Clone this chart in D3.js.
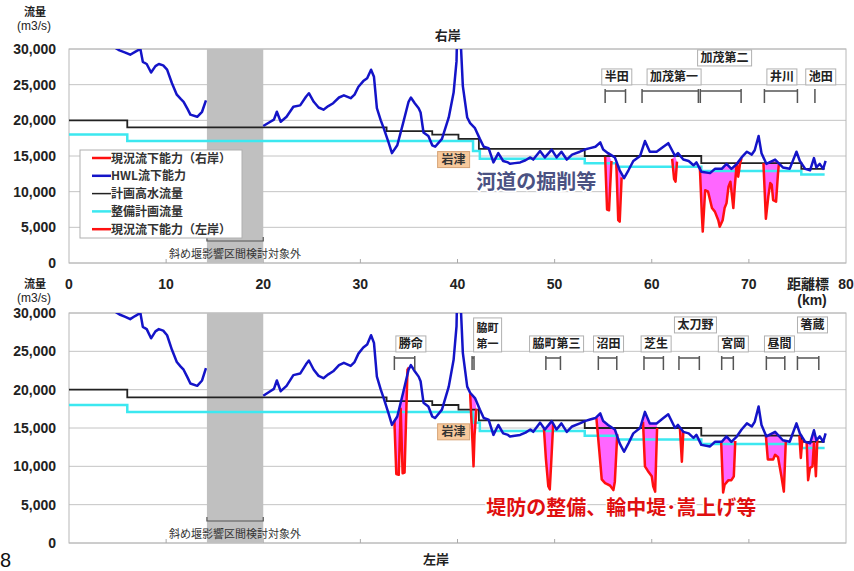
<!DOCTYPE html>
<html>
<head>
<meta charset="utf-8">
<script src="https://cdn.jsdelivr.net/npm/d3@7"></script>
<style>
body { margin: 0; background: #fff; }
text { font-family: "Liberation Sans", Arial, sans-serif; }
.jp { font-family: "Noto Sans CJK JP", sans-serif; }
</style>
</head>
<body>
<div id="chart"></div>
<script>
// ---- data (km, m3/s) ----
const kmTicks = [0, 10, 20, 30, 40, 50, 60, 70, 80];
const flowTicks = [0, 5000, 10000, 15000, 20000, 25000, 30000];

// HWL流下能力 (same for both banks), null = gap (斜め堰区間)
const hwl = [
  [4.6,30300],[5.2,29800],[5.8,29500],[6.3,29200],[6.8,29600],[7.35,30000],[7.6,28200],[8.0,27900],
  [8.45,26700],[8.9,27600],[9.25,27900],[9.7,27700],[10.1,27100],[10.6,25200],[11.1,23600],[11.5,23000],
  [11.8,22600],[12.2,21600],[12.5,20800],[13.2,20500],[13.7,21200],[14.1,22800],[14.2,null],
  [20.0,19200],[20.6,19700],[21.1,20100],[21.4,21200],[21.8,19800],[22.4,20500],[23.1,21900],[23.8,22100],
  [24.4,23300],[24.7,23800],[25.2,22600],[25.7,21800],[26.2,21500],[26.7,22000],[27.2,22400],[27.8,23200],
  [28.3,23500],[29.0,23100],[29.4,23600],[29.8,24700],[30.3,25500],[30.7,25900],[31.1,27100],[31.4,26100],
  [31.7,21700],[32.1,20000],[32.4,18900],[32.9,16900],[33.25,15400],[33.8,16500],[34.4,19600],[34.96,22600],
  [35.2,23200],[35.6,22400],[36.0,21700],[36.2,21100],[36.5,18300],[37.0,17800],[37.4,16500],[37.7,16300],
  [38.4,17400],[39.1,20400],[39.6,23900],[39.9,28300],[40.05,38000],[40.35,30500],[40.55,24800],[41.0,20400],
  [41.3,19600],[41.8,18900],[42.3,17400],[42.7,16300],[43.2,16100],[43.7,14100],[44.2,15400],[44.7,14300],
  [45.2,14100],[45.4,13900],[45.9,14000],[46.45,14100],[47.0,14400],[47.5,14800],[47.8,14500],[48.5,15700],
  [49.0,14800],[49.7,15900],[50.2,14800],[50.7,15600],[51.25,14500],[51.8,15200],[52.6,15600],[53.1,15900],
  [53.65,16100],[54.2,16300],[54.7,16900],[55.0,15900],[55.5,15400],[56.2,14800],[56.7,13000],[57.15,11900],
  [57.6,13000],[58.1,14300],[58.8,15000],[59.3,17100],[59.8,15600],[60.5,15600],[61.2,16300],[61.7,16800],
  [62.4,15000],[62.7,15400],[63.25,14500],[63.8,14300],[64.3,13700],[64.6,14100],[65.1,12800],[66.0,12600],
  [66.5,13200],[67.2,13200],[67.7,13900],[68.2,13200],[68.7,13800],[69.25,14800],[69.8,15600],[70.3,15200],
  [70.6,15800],[71.0,17800],[71.3,15400],[71.8,13900],[72.7,14500],[73.5,13400],[74.2,13200],[74.9,15600],
  [75.25,14300],[75.8,13200],[76.3,13000],[76.7,14700],[76.95,13400],[77.3,13900],[77.65,13200],[77.9,14300]
];

// 計画高水流量 (steps)
const planFlow = [[0,20000],[6,19000],[32.7,18500],[37.4,18000],[40.1,17400],[42.2,16000],[53.1,15000],[65.1,14000],[75.4,13200],[77.8,13200]];
// 整備計画流量 (steps)
const seibiFlow = [[0,18000],[6,17100],[41.6,15700],[42.3,14600],[53.1,14000],[56.4,13500],[65.1,12900],[75.4,12400],[77.8,12400]];

// 現況流下能力 where it falls below HWL
const capRight = [
  [[55.2,14900],[55.4,7500],[55.6,7400],[55.85,14300]],
  [[56.35,14000],[56.55,6000],[56.7,5800],[56.9,12000]],
  [[62.1,14600],[62.3,11800],[62.45,11400],[62.6,14200]],
  [[64.95,13500],[65.15,7000],[65.25,4400],[65.5,10200],[65.8,10000],[66.2,7700],[66.5,7200],[66.85,6000],
   [67.0,5100],[67.3,6000],[67.5,7700],[67.7,8400],[67.9,10700],[68.1,11400],[68.4,7700],[68.55,10700],
   [68.75,14000],[68.9,12100],[69.1,14000],[69.25,14700]],
  [[71.5,14000],[71.75,6200],[72.0,9300],[72.2,11200],[72.35,11000],[72.5,8800],[72.8,8600],[73.0,12600],[73.1,14000]]
];
const capLeft = [
  [[33.5,16000],[33.7,9000],[33.95,8900],[34.15,17500],[34.35,9100],[34.55,9200],[34.85,22600],[35.0,22900]],
  [[41.3,19500],[41.55,13000],[41.65,10000],[41.75,14000],[41.95,17500]],
  [[48.9,14900],[49.1,11000],[49.35,7400],[49.5,7000],[49.65,10500],[49.85,15500]],
  [[54.3,16300],[54.6,12000],[54.85,8300],[55.2,7800],[55.7,7500],[56.05,6900],[56.2,8000],[56.45,14200]],
  [[59.1,15800],[59.3,10000],[59.6,9400],[60.0,8700],[60.15,7400],[60.35,6700],[60.55,15000]],
  [[62.9,15000],[63.1,10600],[63.25,14500]],
  [[67.15,13100],[67.35,6600],[67.5,7600],[67.9,8200],[68.2,8200],[68.45,8700],[68.6,13300]],
  [[71.75,14000],[71.95,10900],[72.5,10900],[72.7,11500],[73.0,11200],[73.35,8700],[73.6,6700],[73.8,13200]],
  [[75.2,14000],[75.35,11100],[75.5,13500]],
  [[75.95,13100],[76.1,8200],[76.3,9800],[76.55,10000],[76.7,13000],[76.9,8700],[77.05,13500]]
];

const weirZone = [14.2, 20];
const iwazu = [39.6, 14500];

// 対象区間
const sitesRight = [
  {name: ['半田'], from: 55.2, to: 57.3, at: 56.4, row: 0},
  {name: ['加茂第一'], from: 59.0, to: 64.8, at: 62.3, row: 0},
  {name: ['加茂第二'], from: 65.0, to: 69.2, at: 67.5, row: 1},
  {name: ['井川'], from: 71.6, to: 75.0, at: 73.4, row: 0},
  {name: ['池田'], from: 76.8, to: 76.8, at: 77.4, row: 0}
];
const sitesLeft = [
  {name: ['勝命'], from: 33.5, to: 35.6, at: 35.2, row: 0},
  {name: ['脇町', '第一'], from: 41.5, to: 41.7, at: 43.1, row: 0},
  {name: ['脇町第三'], from: 49.1, to: 50.6, at: 50.2, row: 0},
  {name: ['沼田'], from: 54.5, to: 56.4, at: 55.55, row: 0},
  {name: ['芝生'], from: 59.2, to: 61.2, at: 60.45, row: 0},
  {name: ['太刀野'], from: 62.8, to: 64.9, at: 64.5, row: 1},
  {name: ['宮岡'], from: 67.2, to: 68.4, at: 68.4, row: 0},
  {name: ['昼間'], from: 71.8, to: 73.7, at: 73.15, row: 0},
  {name: ['箸蔵'], from: 75.0, to: 77.2, at: 76.55, row: 1}
];

const legendItems = [
  ['現況流下能力（右岸）', '#ff1010', 2.5],
  ['HWL流下能力', '#1414c8', 2.5],
  ['計画高水流量', '#222', 1.5],
  ['整備計画流量', '#3ce8f0', 2.5],
  ['現況流下能力（左岸）', '#ff1010', 2.5]
];

// ---- setup ----
const width = 854, height = 571;
const svg = d3.select('#chart').append('svg')
  .attr('width', width).attr('height', height);

const x = d3.scaleLinear().domain([0, 80]).range([69, 846]);

const panels = [
  {id: 'r', top: 49, bottom: 263, cap: capRight, sites: sitesRight, bank: '右岸', bankY: 40, bankKm: 39,
   note: '河道の掘削等', noteAt: [48.1, 11400], noteColor: '#4b5282', unitY: 16},
  {id: 'l', top: 313, bottom: 543, cap: capLeft, sites: sitesLeft, bank: '左岸', bankY: 564, bankKm: 37.8,
   note: '堤防の整備、輪中堤･嵩上げ等', noteAt: [56.85, 4600], noteColor: '#e01010', unitY: 288}
];

panels.forEach(p => {
  const y = d3.scaleLinear().domain([0, 30000]).range([p.bottom, p.top]);
  const g = svg.append('g');

  g.append('clipPath').attr('id', 'clip' + p.id)
    .append('rect').attr('x', x(0)).attr('y', p.top)
    .attr('width', x(80) - x(0)).attr('height', p.bottom - p.top);

  // grid
  g.selectAll('line.grid').data(flowTicks).enter().append('line')
    .attr('x1', x(0)).attr('x2', x(80))
    .attr('y1', d => y(d)).attr('y2', d => y(d))
    .attr('stroke', '#c4c4c4').attr('stroke-width', 1);
  g.append('rect').attr('x', x(0)).attr('y', p.top)
    .attr('width', x(80) - x(0)).attr('height', p.bottom - p.top)
    .attr('fill', 'none').attr('stroke', '#b8b8b8');

  // y labels
  g.selectAll('text.ylab').data(flowTicks).enter().append('text')
    .attr('x', 56).attr('y', d => y(d) + 5)
    .attr('text-anchor', 'end')
    .style('font-size', '14px').style('font-weight', 'bold').attr('fill', '#222')
    .text(d => d3.format(',')(d));

  // x ticks (small, inside)
  g.selectAll('line.xt').data(kmTicks.slice(1, -1)).enter().append('line')
    .attr('x1', d => x(d)).attr('x2', d => x(d))
    .attr('y1', p.bottom).attr('y2', p.bottom - 4)
    .attr('stroke', '#aaa');

  // weir zone band
  g.append('rect').attr('x', x(weirZone[0])).attr('y', p.top)
    .attr('width', x(weirZone[1]) - x(weirZone[0])).attr('height', p.bottom - p.top)
    .attr('fill', '#c0c0c0');
  const by = p.bottom - 22;
  g.append('path')
    .attr('d', `M${x(weirZone[0])},${by - 4}V${by}H${x(weirZone[1])}V${by - 4}`)
    .attr('fill', 'none').attr('stroke', '#555').attr('stroke-width', 1.2);
  g.append('text').attr('class', 'jp')
    .attr('x', (x(weirZone[0]) + x(weirZone[1])) / 2).attr('y', p.bottom - 5)
    .attr('text-anchor', 'middle').style('font-size', '11px').attr('fill', '#333')
    .text('斜め堰影響区間検討対象外');

  const plot = g.append('g').attr('clip-path', `url(#clip${p.id})`);
  const line = d3.line().x(d => x(d[0])).y(d => y(d[1])).defined(d => d[1] != null);
  const stepLine = d3.line().x(d => x(d[0])).y(d => y(d[1])).curve(d3.curveStepAfter);

  // fill between current capacity and HWL
  p.cap.forEach(seg => {
    const s0 = seg[0][0], s1 = seg[seg.length - 1][0];
    const back = hwl.filter(d => d[1] != null && d[0] > s0 && d[0] < s1).reverse();
    plot.append('path').attr('d', line(seg.concat(back)) + 'Z')
      .attr('fill', '#ff66ff').attr('stroke', 'none');
  });

  plot.append('path').attr('d', stepLine(seibiFlow))
    .attr('fill', 'none').attr('stroke', '#3ce8f0').attr('stroke-width', 2.5);
  plot.append('path').attr('d', stepLine(planFlow))
    .attr('fill', 'none').attr('stroke', '#222').attr('stroke-width', 1.8);

  p.cap.forEach(seg => {
    plot.append('path').attr('d', line(seg))
      .attr('fill', 'none').attr('stroke', '#ff1010').attr('stroke-width', 2.5)
      .attr('stroke-linejoin', 'round');
  });

  plot.append('path').attr('d', line(hwl))
    .attr('fill', 'none').attr('stroke', '#1414c8').attr('stroke-width', 2.5)
    .attr('stroke-linejoin', 'round');

  // 岩津
  const iw = g.append('g').attr('transform', `translate(${x(iwazu[0])},${y(iwazu[1])})`);
  iw.append('rect').attr('x', -16).attr('y', -8).attr('width', 32).attr('height', 16)
    .attr('fill', '#f7c99c').attr('stroke', '#d6a377');
  iw.append('text').attr('class', 'jp').attr('y', 4.5).attr('text-anchor', 'middle')
    .style('font-size', '12px').style('font-weight', 'bold').attr('fill', '#333').text('岩津');

  // big note
  g.append('text').attr('class', 'jp')
    .attr('x', x(p.noteAt[0])).attr('y', y(p.noteAt[1]) + 7)
    .attr('text-anchor', 'middle')
    .style('font-size', '20px').style('font-weight', 'bold')
    .attr('fill', p.noteColor).attr('stroke', '#fff').attr('stroke-width', 3)
    .attr('paint-order', 'stroke')
    .text(p.note);

  // site brackets + labels
  const bTop = y(24400);
  p.sites.forEach(s => {
    const x0 = x(s.from), x1 = x(s.to);
    g.append('path')
      .attr('d', `M${x0},${bTop}V${bTop + 14}M${x1},${bTop}V${bTop + 14}M${x0},${bTop + 2}H${x1}`)
      .attr('fill', 'none').attr('stroke', '#555').attr('stroke-width', 1.5);
    const lines = s.name.length;
    const lh = lines > 1 ? 16 : 14;
    const fs = lines > 1 ? 11 : 12;
    const hBox = lh * lines + 2;
    const bottomBox = bTop - 4 - s.row * 19;
    const lg = g.append('g');
    const txts = lg.selectAll('text').data(s.name).enter().append('text').attr('class', 'jp')
      .attr('x', x(s.at)).attr('y', (d, i) => bottomBox - hBox + lh - 2 + i * lh)
      .attr('text-anchor', lines > 1 ? 'start' : 'middle')
      .style('font-size', fs + 'px').style('font-weight', 'bold').attr('fill', '#222')
      .text(d => d);
    const w = d3.max(txts.nodes(), n => n.getComputedTextLength()) + 6;
    if (lines > 1) txts.attr('x', x(s.at) - w / 2 + 3);
    lg.insert('rect', 'text').attr('x', x(s.at) - w / 2).attr('y', bottomBox - hBox)
      .attr('width', w).attr('height', hBox)
      .attr('fill', '#fff').attr('stroke', '#b0b0b0');
  });

  // bank title
  svg.append('text').attr('class', 'jp')
    .attr('x', x(p.bankKm)).attr('y', p.bankY).attr('text-anchor', 'middle')
    .style('font-size', '13px').style('font-weight', 'bold').attr('fill', '#222')
    .text(p.bank);

  // unit label
  svg.append('text').attr('class', 'jp').attr('x', 35).attr('y', p.unitY)
    .attr('text-anchor', 'middle').style('font-size', '11px').style('font-weight', 'bold')
    .attr('fill', '#222').text('流量');
  svg.append('text').attr('x', 34).attr('y', p.unitY + 14)
    .attr('text-anchor', 'middle').style('font-size', '12px').attr('fill', '#222')
    .text('(m3/s)');
});

// x labels between panels
svg.selectAll('text.xlab').data(kmTicks).enter().append('text')
  .attr('x', d => x(d)).attr('y', 289).attr('text-anchor', 'middle')
  .style('font-size', '14px').style('font-weight', 'bold').attr('fill', '#222')
  .text(d => d);
svg.append('text').attr('class', 'jp').attr('x', 808).attr('y', 289)
  .attr('text-anchor', 'middle').style('font-size', '14px').style('font-weight', 'bold')
  .attr('fill', '#222').text('距離標');
svg.append('text').attr('x', 812).attr('y', 305)
  .attr('text-anchor', 'middle').style('font-size', '14px').style('font-weight', 'bold')
  .attr('fill', '#222').text('(km)');

// legend
const lg = svg.append('g').attr('transform', 'translate(80,150)');
lg.append('rect').attr('width', 162).attr('height', 88)
  .attr('fill', '#fff').attr('stroke', '#b0b0b0');
legendItems.forEach((d, i) => {
  const yy = 8 + i * 17.8;
  lg.append('line').attr('x1', 12).attr('x2', 31).attr('y1', yy).attr('y2', yy)
    .attr('stroke', d[1]).attr('stroke-width', d[2]);
  lg.append('text').attr('class', 'jp').attr('x', 31).attr('y', yy + 4.5)
    .style('font-size', '12px').style('font-weight', 'bold').attr('fill', '#333')
    .text(d[0]);
});

// page number
svg.append('text').attr('x', 0).attr('y', 567).style('font-size', '20px').attr('fill', '#111').text('8');
</script>
</body>
</html>
